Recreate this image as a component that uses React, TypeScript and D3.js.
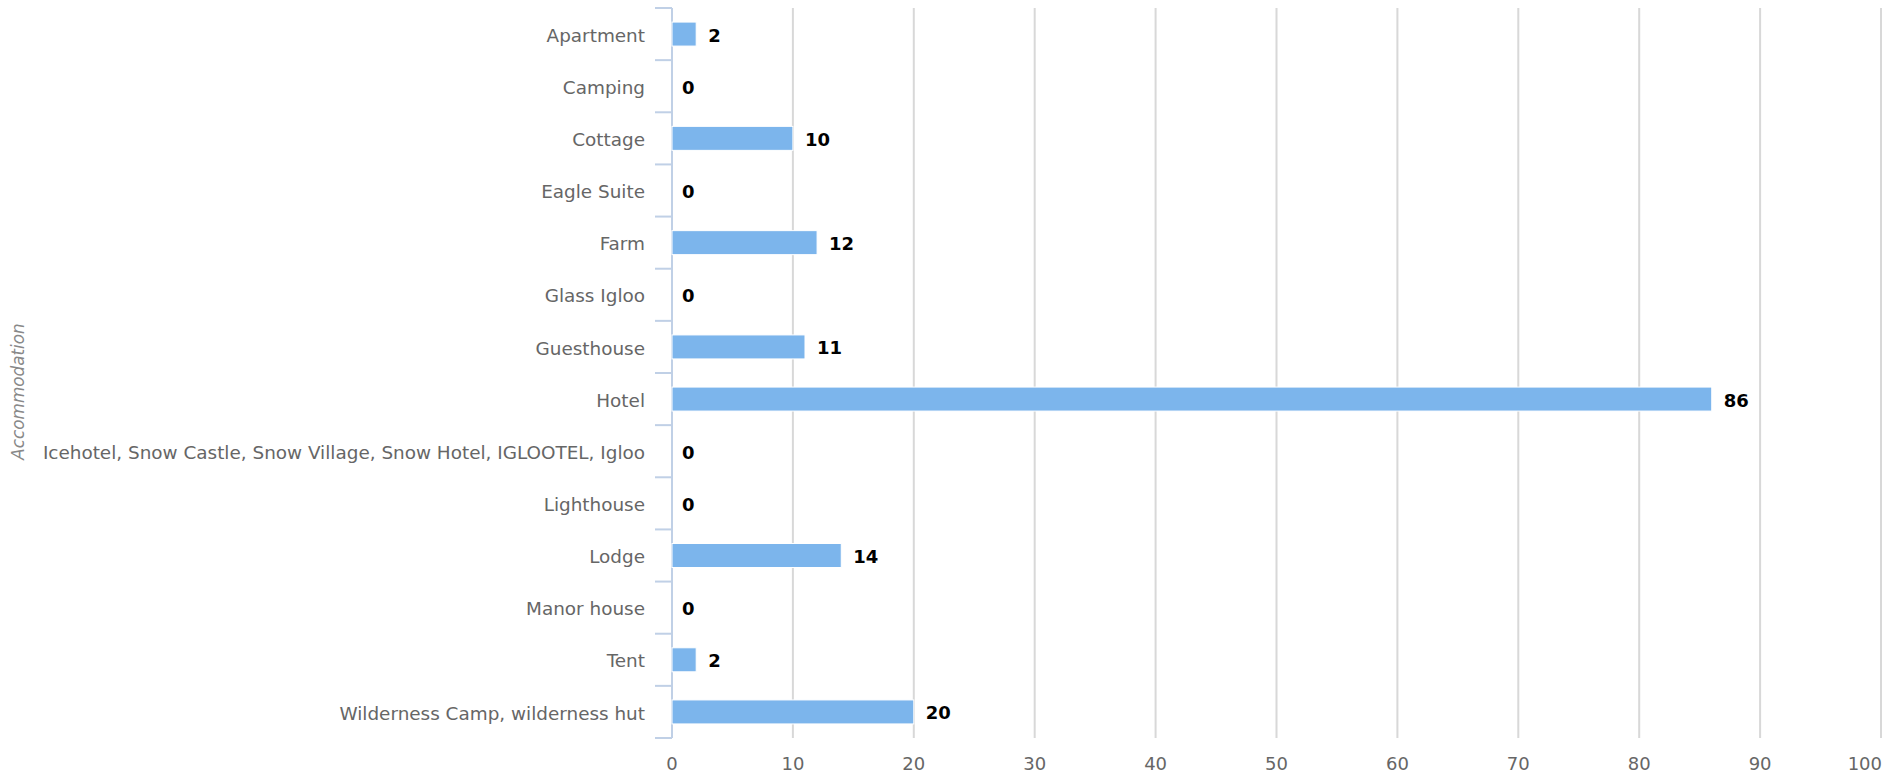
import React from "react";
import * as d3 from "d3";

const categories = [
  "Apartment",
  "Camping",
  "Cottage",
  "Eagle Suite",
  "Farm",
  "Glass Igloo",
  "Guesthouse",
  "Hotel",
  "Icehotel, Snow Castle, Snow Village, Snow Hotel, IGLOOTEL, Igloo",
  "Lighthouse",
  "Lodge",
  "Manor house",
  "Tent",
  "Wilderness Camp, wilderness hut",
];
const values = [2, 0, 10, 0, 12, 0, 11, 86, 0, 0, 14, 0, 2, 20];
const xTicks = [0, 10, 20, 30, 40, 50, 60, 70, 80, 90, 100];
const yTitle = "Accommodation";

const W = 1885;
const H = 775;
const left = 672;
const right = 1881;
const top = 8;
const bottom = 738;
const FONT = "'DejaVu Sans', sans-serif";

export default function App() {
  const x = d3.scaleLinear().domain([0, 100]).range([left, right]);
  const y = d3.scaleBand<string>().domain(categories).range([top, bottom]);
  const bw = y.bandwidth();
  const barH = 24;
  const tickPos = d3.range(categories.length + 1).map((i) => top + i * bw);
  return (
    <div style={{ position: "absolute", left: 0, top: 0 }}>
      <svg width={W} height={H} style={{ display: "block", background: "#fff" }}>
        {xTicks.slice(1).map((t) => (
          <line key={t} x1={x(t)} x2={x(t)} y1={top} y2={bottom} stroke="#d8d8d8" strokeWidth={2} />
        ))}
        <line x1={left} x2={left} y1={top} y2={bottom} stroke="#c0d0e6" strokeWidth={2} />
        {tickPos.map((p, i) => (
          <line key={i} x1={left - 17} x2={left} y1={p} y2={p} stroke="#c0d0e6" strokeWidth={2} />
        ))}
        {categories.map((c, i) => {
          const cy = (y(c) as number) + bw / 2;
          return (
            <g key={c}>
              {values[i] > 0 && (
                <rect
                  x={x(0)}
                  y={cy - barH / 2}
                  width={x(values[i]) - x(0)}
                  height={barH}
                  fill="#7cb5ec"
                  stroke="#fff"
                  strokeWidth={1}
                />
              )}
              <text
                x={x(values[i]) + (values[i] > 0 ? 12 : 10)}
                y={cy + 1}
                dy="0.36em"
                fontFamily={FONT}
                fontSize={18}
                fontWeight="bold"
                fill="#000"
              >
                {values[i]}
              </text>
              <text
                x={left - 27}
                y={cy + 1}
                dy="0.36em"
                textAnchor="end"
                fontFamily={FONT}
                fontSize={18.4}
                fill="#666"
              >
                {c}
              </text>
            </g>
          );
        })}
        {xTicks.map((t, i) => (
          <text
            key={t}
            x={i === xTicks.length - 1 ? W - 3 : x(t)}
            y={764}
            dy="0.36em"
            textAnchor={i === xTicks.length - 1 ? "end" : "middle"}
            fontFamily={FONT}
            fontSize={18}
            fill="#666"
          >
            {t}
          </text>
        ))}
        <text
          transform={`translate(18, ${H / 2 + 4}) rotate(-90)`}
          textAnchor="middle"
          dy="0.36em"
          fontFamily={FONT}
          fontSize={16.8}
          fontStyle="italic"
          fill="#888"
        >
          {yTitle}
        </text>
      </svg>
    </div>
  );
}
